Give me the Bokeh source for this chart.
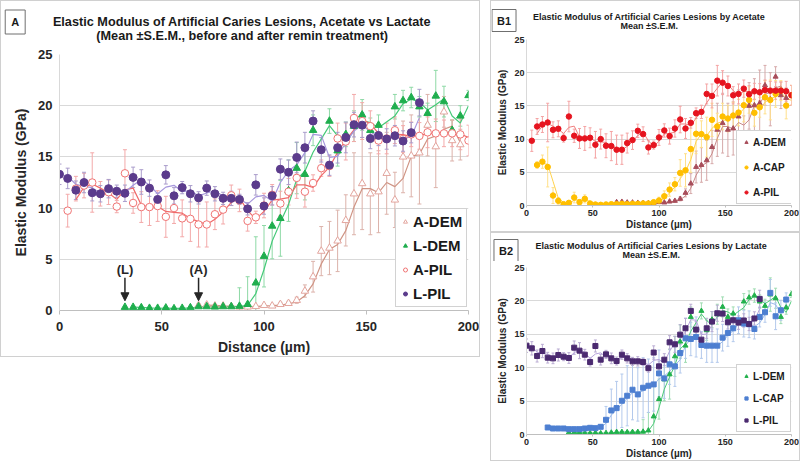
import numpy as np
from bokeh.plotting import figure
from bokeh.models import (ColumnDataSource, Whisker, TeeHead, Legend, LegendItem,
                          Label, Arrow, NormalHead, FixedTicker, Range1d)
from bokeh.layouts import row, column
from bokeh.embed import file_html
from bokeh.resources import INLINE

FONT = "Liberation Sans"

# ------------------------------------------------------------------ data
x_ticks = [0, 50, 100, 150, 200]
y_ticks = [0, 5, 10, 15, 20, 25]

# L-PIL
x_lpil = [0, 4, 8, 12, 16, 20, 24, 28, 32, 36, 40, 44, 48, 52, 56, 60, 64, 68, 72, 76,
          80, 84, 88, 92, 96, 100, 104, 108, 112, 116, 120, 124, 128, 132, 136, 140,
          144, 148, 152, 156, 160, 164, 168, 172, 176]
lpil = [13.3, 12.9, 11.75, 12.5, 11.5, 11.4, 11.9, 11.65, 11.45, 13.0,
        12.55, 11.95, 10.85, 13.25, 11.2, 12.0, 11.4, 11.0, 11.95, 11.4,
        10.95, 10.95, 10.85, 9.93, 12.27, 10.2, 11.2, 13.8, 13.5, 14.95,
        15.9, 18.5, 15.7, 14.2, 15.9, 16.9, 18.15, 18.1, 16.8, 17.1,
        16.75, 17.07, 16.55, 17.37, 20.3]
lpil_err = [1.0, 1.0, 0.9, 1.0, 0.8, 0.8, 0.9, 0.6, 0.8, 1.0,
            1.2, 0.8, 0.6, 0.9, 0.8, 0.6, 0.8, 0.6, 0.7, 0.7,
            0.6, 0.7, 0.5, 0.6, 1.0, 0.8, 0.9, 1.0, 1.2, 1.5,
            1.5, 1.0, 1.2, 1.0, 1.5, 1.5, 1.2, 1.2, 1.0, 1.0,
            1.0, 1.0, 1.0, 1.0, 1.3]

# L-DEM
x_ldem = [32, 36, 40, 44, 48, 52, 56, 60, 64, 68, 72, 76, 80, 84, 88, 92, 96, 100, 104, 108,
          112, 116, 120, 124, 132, 136, 140, 144, 148, 152, 156, 164, 168, 172, 176, 180,
          184, 188, 192, 196, 200]
ldem = [0.32, 0.32, 0.28, 0.22, 0.22, 0.25, 0.18, 0.22, 0.28, 0.38,
        0.38, 0.35, 0.38, 0.38, 0.42, 0.6, 2.7, 5.3, 8.25, 9.0,
        11.7, 13.9, 13.3, 17.6, 18.5, 15.6, 17.2, 18.0, 19.1, 17.6,
        18.1, 19.9, 20.5, 20.8, 19.9, 19.25, 20.95, 20.4, 17.6, 19.0,
        21.0]
ldem_err = [0.08, 0.08, 0.08, 0.08, 0.08, 0.08, 0.08, 0.08, 0.1, 0.1,
            0.1, 0.1, 0.1, 0.1, 1.8, 2.7, 4.5, 3.0, 3.2, 3.7,
            3.0, 2.5, 2.5, 1.5, 1.2, 1.5, 1.2, 1.5, 1.5, 1.2,
            1.0, 1.2, 1.0, 1.0, 1.0, 1.0, 2.5, 1.5, 1.0, 1.0,
            0.5]

# A-PIL
x_apil = [4, 8, 12, 16, 20, 24, 28, 32, 36, 40, 44, 48, 52, 56, 60, 64, 68, 72, 76, 80,
          84, 88, 92, 96, 100, 104, 108, 112, 116, 120, 124, 128, 132, 136, 140, 144,
          148, 152, 156, 160, 164, 168, 172, 176, 180, 184, 188, 192, 196, 200]
apil = [9.75, 11.9, 12.2, 12.5, 11.4, 11.55, 10.15, 13.4, 10.5, 10.1,
        10.1, 10.2, 9.15, 10.0, 9.0, 8.95, 8.4, 8.4, 9.4, 9.85,
        11.25, 10.75, 8.75, 9.1, 10.25, 11.3, 10.45, 11.6, 12.95, 11.6,
        12.45, 13.9, 14.1, 16.8, 16.5, 18.8, 18.5, 18.0, 16.6, 16.8,
        17.6, 16.75, 17.2, 17.05, 17.4, 17.3, 17.3, 17.3, 17.2, 16.6]
apil_err = [1.6, 1.2, 1.2, 2.9, 1.2, 1.2, 0.6, 2.3, 1.0, 1.5,
            1.8, 1.5, 2.0, 1.5, 1.8, 2.2, 2.2, 2.2, 1.5, 1.4,
            1.0, 1.1, 1.0, 0.6, 1.2, 1.0, 1.2, 1.3, 2.0, 1.5,
            0.8, 0.8, 1.0, 1.5, 1.8, 2.3, 1.8, 1.5, 1.3, 1.5,
            1.3, 1.3, 1.2, 1.3, 1.5, 1.4, 1.3, 1.3, 1.5, 1.5]

# A-DEM
x_adem = [68, 72, 76, 80, 84, 88, 92, 96, 100, 104, 108, 112, 116, 120, 124, 128, 132,
          136, 140, 144, 148, 152, 156, 160, 164, 168, 172, 176, 180, 184, 188, 192, 196]
adem = [0.5, 0.55, 0.45, 0.45, 0.4, 0.35, 0.35, 0.4, 0.5, 0.45,
        0.6, 0.7, 1.0, 1.9, 3.3, 5.8, 6.1, 6.8, 8.8, 11.4,
        12.4, 11.4, 11.6, 13.4, 10.8, 15.0, 15.1, 15.4, 18.1, 16.0,
        19.4, 16.6, 16.2]
adem_err = [0.15, 0.15, 0.1, 0.1, 0.1, 0.1, 0.1, 0.1, 0.15, 0.15,
            0.2, 0.2, 0.3, 0.6, 1.5, 2.4, 2.6, 3.0, 2.5, 4.0,
            4.5, 4.0, 4.0, 4.0, 2.7, 3.5, 4.0, 5.0, 3.0, 4.0,
            1.5, 2.0, 1.5]

# A-CAP
x_acap = [8, 12, 16, 20, 24, 28, 32, 36, 40, 44, 48, 52, 56, 60, 64, 68, 72, 76, 80, 84,
          88, 92, 96, 100, 104, 108, 112, 116, 120, 124, 128, 132, 136, 140, 144, 148,
          152, 156, 160, 164, 168, 172, 176, 180, 184, 188, 192, 196, 200]
acap = [6.1, 6.6, 5.8, 1.5, 0.7, 0.2, 0.4, 1.2, 0.5, 1.0,
        0.3, 0.15, 0.1, 0.15, 0.2, 0.2, 0.25, 0.2, 0.25, 0.25,
        0.3, 0.3, 0.5, 0.75, 1.4, 2.4, 3.2, 4.9, 5.3, 8.5,
        10.8, 10.75, 10.3, 12.9, 11.9, 13.4, 13.1, 13.55, 14.0, 15.1,
        15.9, 13.95, 14.8, 16.3, 15.9, 16.8, 17.3, 15.05, 16.6]
acap_err = [0.5, 1.0, 3.0, 1.2, 0.5, 0.3, 0.3, 0.8, 0.4, 0.6,
            0.2, 0.1, 0.1, 0.1, 0.1, 0.1, 0.1, 0.1, 0.1, 0.1,
            0.1, 0.1, 0.2, 0.5, 0.8, 1.0, 1.0, 2.0, 2.5, 3.5,
            3.0, 2.0, 3.0, 2.5, 2.0, 2.0, 2.0, 2.0, 2.0, 2.5,
            2.0, 2.0, 1.5, 2.5, 3.0, 2.0, 1.5, 2.0, 1.5]

# L-CAP
x_lcap = [16, 20, 24, 28, 32, 36, 40, 44, 48, 52, 56, 60, 64, 68, 72, 76, 80, 84, 88, 92,
          96, 100, 104, 108, 112, 116, 120, 124, 128, 132, 136, 140, 144, 148, 152, 156,
          160, 164, 168, 172, 176, 180, 184, 188, 192, 196]
lcap = [1.05, 0.9, 0.9, 0.9, 0.8, 0.8, 0.8, 0.9, 1.0, 0.95,
        1.15, 2.2, 3.6, 3.95, 5.05, 5.8, 6.7, 6.0, 7.0, 7.3,
        7.5, 9.15, 8.4, 10.5, 10.2, 12.2, 14.4, 14.3, 14.6, 13.4,
        13.3, 13.3, 13.3, 14.5, 15.2, 15.9, 17.1, 16.6, 16.5, 15.8,
        17.6, 18.3, 21.2, 17.7, 18.6, 20.2]
lcap_err = [0.1, 0.1, 0.1, 0.1, 0.1, 0.1, 0.1, 0.1, 0.1, 0.1,
            0.15, 2.0, 3.2, 4.0, 4.0, 4.5, 4.5, 4.0, 4.5, 4.0,
            4.0, 3.5, 3.0, 3.0, 3.0, 3.0, 3.0, 2.5, 3.0, 2.0,
            2.5, 2.5, 2.5, 2.0, 2.0, 2.0, 2.0, 2.0, 2.0, 1.5,
            1.5, 1.5, 2.0, 2.0, 1.5, 1.0]

arrow_x = [32, 68]
arrow_text = ["(L)", "(A)"]

BORDER = "1px solid #d0d0d0"


# ------------------------------------------------------------------ helpers
def ma2(x, y):
    x = np.asarray(x, float)
    y = np.asarray(y, float)
    return x[1:], (y[1:] + y[:-1]) / 2.0


def make_header(w, h):
    p = figure(width=w, height=h, x_range=Range1d(0, 1), y_range=Range1d(0, 1),
               output_backend="svg", toolbar_location=None,
               x_axis_location=None, y_axis_location=None, min_border=0,
               frame_align=False,
               styles={"border": BORDER, "border-bottom": "none", "box-sizing": "border-box"})
    p.outline_line_color = None
    p.grid.visible = False
    return p


def make_fig(w, h, bl, br, bt, bb, tick_px, lab_px, tick_out, lab_stand, axlab_stand, ylab_stand):
    p = figure(width=w, height=h, x_range=Range1d(0, 200), y_range=Range1d(0, 25),
               output_backend="svg", toolbar_location=None,
               min_border_left=bl, min_border_right=br,
               min_border_top=bt, min_border_bottom=bb,
               frame_align=False,
               styles={"border": BORDER, "border-top": "none", "box-sizing": "border-box"})
    p.xgrid.visible = False
    p.ygrid.grid_line_color = "#d9d9d9"
    p.outline_line_color = None
    p.xaxis.ticker = FixedTicker(ticks=x_ticks)
    p.yaxis.ticker = FixedTicker(ticks=y_ticks)
    for ax in (p.xaxis[0], p.yaxis[0]):
        ax.major_label_text_font = FONT
        ax.major_label_text_font_style = "bold"
        ax.major_label_text_font_size = f"{tick_px}px"
        ax.major_label_text_color = "#262626"
        ax.axis_label_text_font = FONT
        ax.axis_label_text_font_style = "bold"
        ax.axis_label_text_font_size = f"{lab_px}px"
        ax.axis_label_text_color = "#262626"
        ax.axis_line_color = "#bfbfbf"
        ax.major_tick_line_color = "#bfbfbf"
        ax.minor_tick_line_color = None
        ax.major_tick_in = 0
        ax.major_label_standoff = lab_stand
    p.xaxis.axis_label_standoff = axlab_stand
    p.yaxis.axis_label_standoff = ylab_stand
    p.xaxis.major_tick_out = tick_out
    p.yaxis.major_tick_out = 0
    p.yaxis.axis_line_color = "#d9d9d9"
    p.xaxis.axis_label = "Distance (\u00b5m)"
    p.yaxis.axis_label = "Elastic Modulus (GPa)"
    return p


def add_err(p, x, y, e, color, cap):
    src = ColumnDataSource(dict(x=x, lo=np.array(y) - np.array(e), up=np.array(y) + np.array(e)))
    p.add_layout(Whisker(source=src, base="x", lower="lo", upper="up",
                         line_color=color, line_width=1,
                         lower_head=TeeHead(size=cap, line_color=color, line_width=1),
                         upper_head=TeeHead(size=cap, line_color=color, line_width=1)))


def add_trend(p, x, y, color, width=1.2):
    mx, my = ma2(x, y)
    p.line(mx, my, line_color=color, line_width=width)


def box_label(p, text, x, y, size, pad):
    p.add_layout(Label(x=x, y=y, x_units="screen", y_units="screen", text=text,
                       text_font=FONT, text_font_style="bold", text_font_size=f"{size}px",
                       text_color="#1a1a1a", text_align="center", text_baseline="middle",
                       border_line_color="#6f6f6f", border_line_width=1,
                       background_fill_color="white", padding=pad))


def title_label(p, text, x, y, size):
    p.add_layout(Label(x=x, y=y, x_units="screen", y_units="screen", text=text,
                       text_font=FONT, text_font_style="bold", text_font_size=f"{size}px",
                       text_color="#1a1a1a", text_align="center", text_baseline="middle"))


def make_legend(p, items, loc, size, pad, spacing, gh, gw):
    leg = Legend(items=[LegendItem(label=l, renderers=[r]) for l, r in items],
                 location=loc, label_text_font=FONT, label_text_font_style="bold",
                 label_text_font_size=f"{size}px", label_text_color="#1a1a1a",
                 padding=pad, spacing=spacing, margin=0,
                 glyph_height=gh, glyph_width=gw, label_height=gh, label_standoff=3,
                 border_line_color="#a6a6a6", border_line_width=1,
                 background_fill_color="white", background_fill_alpha=1.0)
    p.add_layout(leg)


# ------------------------------------------------------------------ panel A
hA = make_header(480, 44)
box_label(hA, "A", 13.7, 23.5, 11, 6)
title_label(hA, "Elastic Modulus of Artificial Caries Lesions, Acetate vs Lactate", 240.7, 24, 12.7)
title_label(hA, "(Mean \u00b1S.E.M., before and after remin treatment)", 240.7, 10, 12.7)

pA = make_fig(480, 313, 58, 13, 10, 45, 13, 14, 4, 7, 5, 6)

C_LPIL, C_LPIL_E, C_LPIL_T = "#5b3b8c", "#a99ccb", "#a696dc"
C_LDEM, C_LDEM_E, C_LDEM_T = "#1fae4e", "#8ed9a6", "#45c978"
C_APIL, C_APIL_E, C_APIL_T = "#f07474", "#f3a9a9", "#f06a6a"
C_ADEM, C_ADEM_E, C_ADEM_T = "#e3a59e", "#dcb2aa", "#cf9484"

add_err(pA, x_adem, adem, adem_err, C_ADEM_E, 4)
add_err(pA, x_ldem, ldem, ldem_err, C_LDEM_E, 4)
add_err(pA, x_apil, apil, apil_err, C_APIL_E, 4)
add_err(pA, x_lpil, lpil, lpil_err, C_LPIL_E, 4)
add_trend(pA, x_adem, adem, C_ADEM_T)
add_trend(pA, x_ldem, ldem, C_LDEM_T)
add_trend(pA, x_apil, apil, C_APIL_T)
add_trend(pA, x_lpil, lpil, C_LPIL_T)
rA1 = pA.scatter(x_adem, adem, marker="triangle", size=7.5, fill_color="white", line_color=C_ADEM, line_width=1)
rA2 = pA.scatter(x_ldem, ldem, marker="triangle", size=7.5, fill_color=C_LDEM, line_color=C_LDEM)
rA3 = pA.scatter(x_apil, apil, marker="circle", size=7.5, fill_color="white", line_color=C_APIL, line_width=1)
rA4 = pA.scatter(x_lpil, lpil, marker="circle", size=8, fill_color=C_LPIL, line_color=C_LPIL)

for ax_x, txt in zip(arrow_x, arrow_text):
    pA.add_layout(Arrow(end=NormalHead(size=8, fill_color="#262626", line_color="#262626"),
                        x_start=ax_x, y_start=3.2, x_end=ax_x, y_end=0.95,
                        line_color="#262626", line_width=1.5))
    pA.add_layout(Label(x=ax_x, y=4.0, text=txt, text_font=FONT, text_font_style="bold",
                        text_font_size="13px", text_color="#262626",
                        text_align="center", text_baseline="middle"))

make_legend(pA, [("A-DEM", rA1), ("L-DEM", rA2), ("A-PIL", rA3), ("L-PIL", rA4)],
            (336, 3), 15, 4, 7, 15, 10)

# ------------------------------------------------------------------ panel B1
hB1 = make_header(310, 33)
box_label(hB1, "B1", 12.5, 14, 11, 5)
title_label(hB1, "Elastic Modulus of Artificial Caries Lesions by Acetate", 157.7, 18, 9)
title_label(hB1, "Mean \u00b1S.E.M.", 157.7, 8.5, 9)

pB1 = make_fig(310, 199, 35, 10, 6, 26, 9, 10, 2, 2, 0, 3)
C_BADEM, C_BADEM_T = "#a84d5a", "#c98a8a"
C_ACAP, C_ACAP_E, C_ACAP_T = "#ffbf00", "#ffe08a", "#ffd24d"
C_BAPIL, C_BAPIL_E, C_BAPIL_T = "#e6141f", "#f4a3a3", "#f07f7f"

add_err(pB1, x_adem, adem, adem_err, "#d6a9a9", 3)
add_err(pB1, x_acap, acap, acap_err, C_ACAP_E, 3)
add_err(pB1, x_apil, apil, apil_err, C_BAPIL_E, 3)
add_trend(pB1, x_adem, adem, C_BADEM_T, 1)
add_trend(pB1, x_acap, acap, C_ACAP_T, 1)
add_trend(pB1, x_apil, apil, C_BAPIL_T, 1)
rB1 = pB1.scatter(x_adem, adem, marker="triangle", size=5, fill_color=C_BADEM, line_color=C_BADEM)
rB2 = pB1.scatter(x_acap, acap, marker="circle", size=5.5, fill_color=C_ACAP, line_color=C_ACAP)
rB3 = pB1.scatter(x_apil, apil, marker="circle", size=5.5, fill_color=C_BAPIL, line_color=C_BAPIL)
make_legend(pB1, [("A-DEM", rB1), ("A-CAP", rB2), ("A-PIL", rB3)],
            (210, 1), 10, 5, 13, 12, 8)

# ------------------------------------------------------------------ panel B2
hB2 = make_header(310, 29)
box_label(hB2, "B2", 14.5, 12, 11, 5)
title_label(hB2, "Elastic Modulus of Artificial Caries Lesions by Lactate", 159.8, 17, 9)
title_label(hB2, "Mean \u00b1S.E.M.", 159.8, 7.7, 9)

pB2 = make_fig(310, 200, 35, 10, 6, 26, 9, 10, 2, 2, 0, 3)
C_BLDEM, C_BLDEM_E, C_BLDEM_T = "#22b14c", "#9fdcb2", "#4dc979"
C_LCAP, C_LCAP_E, C_LCAP_T = "#4d7fd1", "#b3c9ec", "#99b8e8"
C_BLPIL, C_BLPIL_E, C_BLPIL_T = "#4b2a70", "#b9abd2", "#b7a4dc"

add_err(pB2, x_ldem, ldem, ldem_err, C_BLDEM_E, 3)
add_err(pB2, x_lcap, lcap, lcap_err, C_LCAP_E, 3)
add_err(pB2, x_lpil, lpil, lpil_err, C_BLPIL_E, 3)
add_trend(pB2, x_ldem, ldem, C_BLDEM_T, 1)
add_trend(pB2, x_lcap, lcap, C_LCAP_T, 1)
add_trend(pB2, x_lpil, lpil, C_BLPIL_T, 1)
rC1 = pB2.scatter(x_ldem, ldem, marker="triangle", size=5, fill_color=C_BLDEM, line_color=C_BLDEM)
rC2 = pB2.scatter(x_lcap, lcap, marker="square", size=5, fill_color=C_LCAP, line_color=C_LCAP)
rC3 = pB2.scatter(x_lpil, lpil, marker="square", size=5, fill_color=C_BLPIL, line_color=C_BLPIL)
make_legend(pB2, [("L-DEM", rC1), ("L-CAP", rC2), ("L-PIL", rC3)],
            (210, 2), 10, 5, 10, 12, 8)

colA = column(hA, pA, spacing=0)
colB = column(hB1, pB1, hB2, pB2, spacing=0)
layout = row(colA, colB, spacing=10)
open("out.html", "w").write(file_html(layout, INLINE))
